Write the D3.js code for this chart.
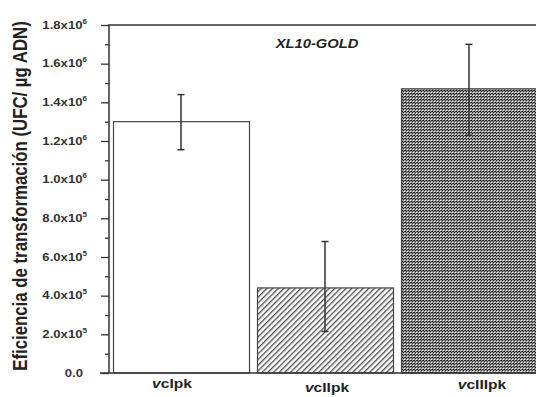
<!DOCTYPE html>
<html>
<head>
<meta charset="utf-8">
<script src="https://cdn.jsdelivr.net/npm/d3@7"></script>
<style>
  body { margin: 0; background: #fff; }
  svg { display: block; font-family: "Liberation Sans", Arial, sans-serif; }
</style>
</head>
<body>
<svg id="chart" width="536" height="397"></svg>
<script>
// data
var strains = ["cIpk", "cIIpk", "cIIIpk"];
var efficiency = [1.30e6, 0.44e6, 1.47e6];
var err_hi = [1.44e6, 0.68e6, 1.70e6];
var err_lo = [1.155e6, 0.215e6, 1.23e6];
var major_ticks = [0, 2e5, 4e5, 6e5, 8e5, 1e6, 1.2e6, 1.4e6, 1.6e6, 1.8e6];
var tick_mantissa = ["0.0", "2.0", "4.0", "6.0", "8.0", "1.0", "1.2", "1.4", "1.6", "1.8"];
var tick_exp = ["", "5", "5", "5", "5", "6", "6", "6", "6", "6"];

var w = 536, h = 397;
var axis_x = 109, top_y = 25, base_y = 373;
var line_color = "#333";
var stretch = 1.25;   // the original figure is stretched sideways

var svg = d3.select("#chart");

var y = d3.scaleLinear()
  .domain([0, 1.8e6])
  .range([base_y, top_y]);

var x = d3.scaleBand()
  .domain(strains)
  .range([axis_x, 541])
  .paddingInner(8 / 144)
  .paddingOuter(4 / 144);

// patterns
var defs = svg.append("defs");

var hatch = defs.append("pattern")
  .attr("id", "hatch")
  .attr("patternUnits", "userSpaceOnUse")
  .attr("width", 4)
  .attr("height", 4)
  .attr("patternTransform", "rotate(45)");
hatch.append("rect").attr("width", 4).attr("height", 4).attr("fill", "#fff");
hatch.append("rect").attr("width", 1.4).attr("height", 4).attr("fill", "#555");

var checker = defs.append("pattern")
  .attr("id", "checker")
  .attr("patternUnits", "userSpaceOnUse")
  .attr("width", 3)
  .attr("height", 3);
checker.append("rect").attr("width", 3).attr("height", 3).attr("fill", "#999");
checker.append("rect").attr("x", 0).attr("y", 0).attr("width", 1).attr("height", 1).attr("fill", "#111");
checker.append("rect").attr("x", 1).attr("y", 1).attr("width", 1).attr("height", 1).attr("fill", "#222");
checker.append("rect").attr("x", 2).attr("y", 2).attr("width", 1).attr("height", 1).attr("fill", "#f4f4f4");
checker.append("rect").attr("x", 2).attr("y", 0).attr("width", 1).attr("height", 1).attr("fill", "#444");

var fills = ["#fff", "url(#hatch)", "url(#checker)"];

// bars
svg.selectAll("rect.bar")
  .data(strains)
  .enter().append("rect")
  .attr("class", "bar")
  .attr("x", function(d) { return x(d) + 0.5; })
  .attr("y", function(d, i) { return y(efficiency[i]); })
  .attr("width", x.bandwidth())
  .attr("height", function(d, i) { return base_y - y(efficiency[i]); })
  .attr("fill", function(d, i) { return fills[i]; })
  .attr("stroke", "#444")
  .attr("stroke-width", 1.2);

// error bars
var eb = svg.selectAll("g.err")
  .data(strains)
  .enter().append("g")
  .attr("class", "err")
  .attr("stroke", line_color)
  .attr("stroke-width", 1.5);

eb.append("line")
  .attr("x1", function(d) { return x(d) + x.bandwidth() / 2; })
  .attr("x2", function(d) { return x(d) + x.bandwidth() / 2; })
  .attr("y1", function(d, i) { return y(err_lo[i]); })
  .attr("y2", function(d, i) { return y(err_hi[i]); });

[err_lo, err_hi].forEach(function(arr) {
  eb.append("line")
    .attr("x1", function(d) { return x(d) + x.bandwidth() / 2 - 3.5; })
    .attr("x2", function(d) { return x(d) + x.bandwidth() / 2 + 3.5; })
    .attr("y1", function(d, i) { return y(arr[i]); })
    .attr("y2", function(d, i) { return y(arr[i]); });
});

// y axis with minor ticks
var minor = d3.range(1e5, 1.8e6, 2e5);
svg.append("g")
  .attr("transform", "translate(" + axis_x + ",0)")
  .call(d3.axisLeft(y).tickValues(minor).tickSize(4).tickFormat(""))
  .call(function(g) { g.select(".domain").remove(); })
  .selectAll("line").attr("stroke", line_color).attr("stroke-width", 1.3);

var gy = svg.append("g")
  .attr("transform", "translate(" + axis_x + ",0)")
  .call(d3.axisLeft(y).tickValues(major_ticks).tickSize(8).tickFormat(""));
gy.select(".domain").remove();
gy.selectAll("line").attr("stroke", line_color).attr("stroke-width", 1.3);

// tick labels
var labels = svg.selectAll("text.ytick")
  .data(major_ticks)
  .enter().append("text")
  .attr("class", "ytick")
  .attr("transform", function(d, i) {
    return "translate(" + (i == 0 ? 83 : 87) + "," + (y(d) + 3.8) + ") scale(" + stretch + ",1)";
  })
  .attr("text-anchor", "end")
  .attr("font-size", 10.5)
  .attr("font-weight", "bold")
  .attr("fill", "#333");
labels.append("tspan").text(function(d, i) { return tick_mantissa[i] + (tick_exp[i] ? "x10" : ""); });
labels.append("tspan")
  .attr("dy", -5)
  .attr("font-size", 6.5)
  .text(function(d, i) { return tick_exp[i]; });

// frame lines
svg.append("line")
  .attr("x1", axis_x).attr("x2", axis_x)
  .attr("y1", top_y).attr("y2", base_y)
  .attr("stroke", line_color).attr("stroke-width", 1.5);
svg.append("line")
  .attr("x1", axis_x - 1).attr("x2", w)
  .attr("y1", top_y).attr("y2", top_y)
  .attr("stroke", line_color).attr("stroke-width", 1.5);
svg.append("line")
  .attr("x1", 100).attr("x2", w)
  .attr("y1", base_y).attr("y2", base_y)
  .attr("stroke", line_color).attr("stroke-width", 1.5);

// x category labels (small shifts as in the original)
var label_dx = [-9, 2, 13];
var label_y = [387.5, 392, 389];
var xl = svg.selectAll("text.xlab")
  .data(strains)
  .enter().append("text")
  .attr("class", "xlab")
  .attr("transform", function(d, i) {
    return "translate(" + (x(d) + x.bandwidth() / 2 + label_dx[i]) + "," + label_y[i] + ") scale(" + stretch + ",1)";
  })
  .attr("text-anchor", "middle")
  .attr("font-size", 12.5)
  .attr("font-weight", "bold")
  .attr("fill", "#222");
xl.append("tspan").attr("font-style", "italic").text("v");
xl.append("tspan").text(function(d) { return d; });

// inset title
svg.append("text")
  .attr("transform", "translate(317,48) scale(1.18,1)")
  .attr("text-anchor", "middle")
  .attr("font-size", 12.5)
  .attr("font-weight", "bold")
  .attr("font-style", "italic")
  .attr("fill", "#222")
  .text("XL10-GOLD");

// y axis title
svg.append("text")
  .attr("transform", "translate(27,196) scale(1.2,1) rotate(-90)")
  .attr("text-anchor", "middle")
  .attr("font-size", 16.8)
  .attr("font-weight", "bold")
  .attr("fill", "#222")
  .text("Eficiencia de transformación (UFC/ µg ADN)");
</script>
</body>
</html>
